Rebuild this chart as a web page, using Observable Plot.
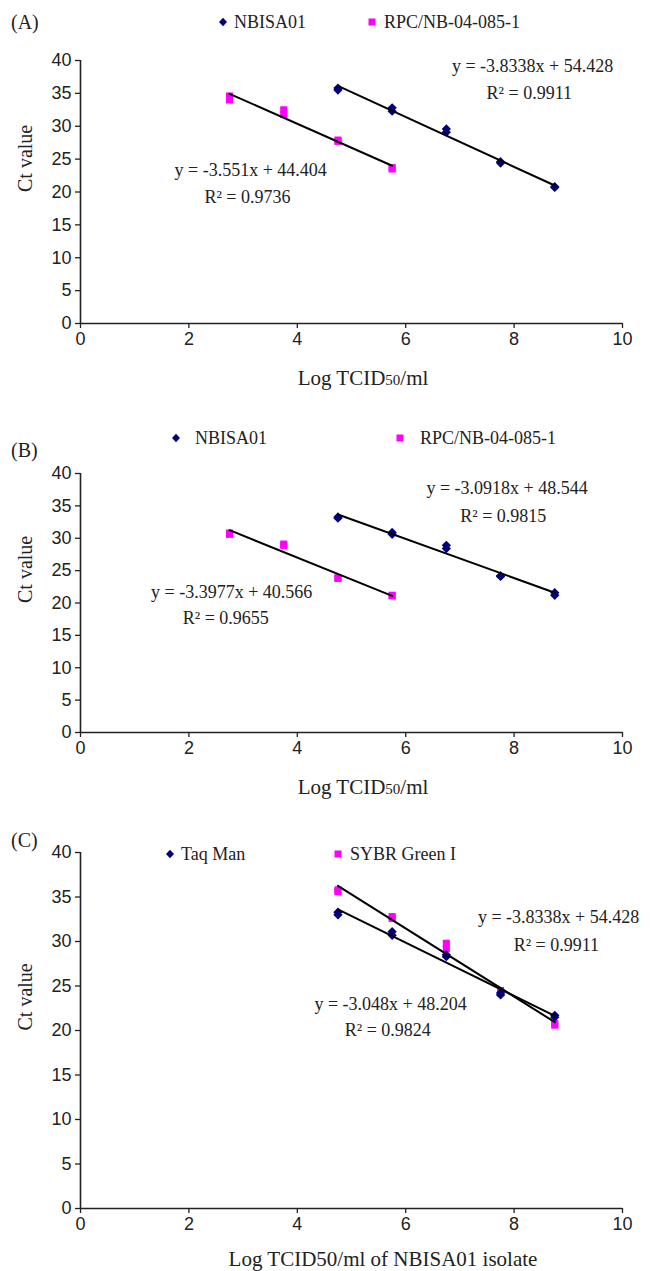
<!DOCTYPE html>
<html><head><meta charset="utf-8">
<script src="https://cdn.jsdelivr.net/npm/d3@7"></script>
<script src="https://cdn.jsdelivr.net/npm/@observablehq/plot@0.6"></script>
<style>
body{margin:0;background:#fff;}
#wrap{position:relative;width:654px;height:1271px;overflow:hidden;background:#fff;}
.abs{position:absolute;white-space:nowrap;line-height:1;}
.serif{font-family:"Liberation Serif","Times New Roman",serif;color:#222;}
.abs svg{display:block;}
</style></head><body><div id="wrap"></div>
<script>
// ---------- data ----------
const panelLabels = ["(A)", "(B)", "(C)"];
const namesAB = ["NBISA01", "RPC/NB-04-085-1"];
const namesC = ["Taq Man", "SYBR Green I"];
const xTicks = [0, 2, 4, 6, 8, 10];
const yTicks = [0, 5, 10, 15, 20, 25, 30, 35, 40];
const yLabel = "Ct value";

// log TCID50/ml of the dilutions (replicates)
const logNBISA = [4.75, 4.75, 5.75, 5.75, 6.75, 6.75, 7.75, 7.75, 8.75, 8.75];
const logRPC = [2.75, 2.75, 3.75, 3.75, 4.75, 4.75, 5.75, 5.75];

// Panel A: Ct values
const ctNBISA_A = [35.5, 35.8, 32.3, 32.8, 29.1, 29.6, 24.4, 24.6, 20.7, 20.8];
const ctRPC_A = [34.0, 34.6, 31.8, 32.5, 27.7, 27.9, 23.5, 23.7];
// Panel B: Ct values
const ctNBISA_B = [33.1, 33.3, 30.6, 30.9, 28.4, 28.9, 24.1, 24.2, 21.2, 21.6];
const ctRPC_B = [30.6, 30.8, 28.9, 29.1, 23.8, 23.9, 21.1, 21.2];
// Panel C: Ct values
const ctTaqMan = [33.0, 33.3, 30.7, 31.1, 28.3, 28.5, 24.0, 24.2, 21.5, 21.7];
const ctSYBR = [35.6, 35.8, 32.6, 32.8, 29.2, 29.8, 24.3, 24.5, 20.6, 20.8];

// trendline equations (text) and their anchor in data units
const eqTextA = ["y = -3.8338x + 54.428", "R² = 0.9911", "y = -3.551x + 44.404", "R² = 0.9736"];
const eqXA = [8.34, 8.28, 3.14, 3.08];
const eqYA = [39.2, 35.0, 23.3, 19.2];
const eqTextB = ["y = -3.0918x + 48.544", "R² = 0.9815", "y = -3.3977x + 40.566", "R² = 0.9655"];
const eqXB = [7.87, 7.80, 2.79, 2.68];
const eqYB = [37.7, 33.4, 21.6, 17.6];
const eqTextC = ["y = -3.8338x + 54.428", "R² = 0.9911", "y = -3.048x + 48.204", "R² = 0.9824"];
const eqXC = [8.82, 8.78, 5.72, 5.67];
const eqYC = [32.7, 29.55, 23.0, 20.0];

// ---------- helpers ----------
const NAVY = "#00007f", MAGENTA = "#ff00ff";
const SERIF = "Liberation Serif, Times New Roman, serif";
const SANS = "Liberation Sans, Arial, sans-serif";
const rows = (xs, ys) => xs.map((x, i) => ({x, y: ys[i]}));
const wrap = document.getElementById("wrap");

function place(el, left, top, center) {
  el.classList.add("abs");
  el.style.left = left + "px";
  el.style.top = top + "px";
  el.style.transform = center ? "translate(-50%,-50%)" : "translate(0,-50%)";
  wrap.appendChild(el);
  return el;
}
function htmlText(html, left, top, size, center) {
  const d = document.createElement("div");
  d.className = "serif";
  d.style.fontSize = size + "px";
  d.innerHTML = html;
  return place(d, left, top, center);
}
function marker(kind, left, top) {
  const ns = "http://www.w3.org/2000/svg";
  const s = document.createElementNS(ns, "svg");
  s.setAttribute("width", 10); s.setAttribute("height", 10);
  const p = document.createElementNS(ns, "path");
  if (kind === "diamond") { p.setAttribute("d", "M5,0.8L9,5L5,9.2L1,5Z"); p.setAttribute("fill", NAVY); }
  else { p.setAttribute("d", "M1.5,1.5H8.5V8.5H1.5Z"); p.setAttribute("fill", MAGENTA); }
  s.appendChild(p);
  const d = document.createElement("div");
  d.appendChild(s);
  d.style.width = "10px"; d.style.height = "10px";
  return place(d, left - 5, top, false);
}

function panel(cfg) {
  const blue = rows(cfg.bx, cfg.by), pink = rows(cfg.px, cfg.py);
  const eqs = cfg.eqT.map((t, i) => ({t, x: cfg.eqX[i], y: cfg.eqY[i]}));
  const chart = Plot.plot({
    width: 654,
    height: cfg.height,
    marginLeft: 80, marginRight: 32, marginTop: 20, marginBottom: 30,
    x: {domain: [0, 10]},
    y: {domain: [0, 40]},
    style: {background: "transparent", overflow: "visible", color: "#222"},
    marks: [
      Plot.ruleX([0], {stroke: "#222", strokeWidth: 1.6}),
      Plot.ruleY([0], {stroke: "#222", strokeWidth: 1.6}),
      Plot.axisX({ticks: xTicks, tickSize: 5, tickPadding: 4, label: null, fontSize: 18, fontFamily: SANS, stroke: "#222", strokeWidth: 1.3}),
      Plot.axisY({ticks: yTicks, tickSize: 5, tickPadding: 4, label: null, fontSize: 18, fontFamily: SANS, stroke: "#222", strokeWidth: 1.3}),
      Plot.text([yLabel], {frameAnchor: "left", rotate: -90, dx: -55, fontSize: 20, fontFamily: SERIF, fill: "#222"}),
      Plot.dot(pink, {x: "x", y: "y", symbol: "square", r: 4, fill: MAGENTA, stroke: null}),
      Plot.dot(blue, {x: "x", y: "y", symbol: "diamond2", r: 4.2, fill: NAVY, stroke: null}),
      Plot.linearRegressionY(blue, {x: "x", y: "y", stroke: "#000", strokeWidth: 2, ci: 0}),
      Plot.linearRegressionY(pink, {x: "x", y: "y", stroke: "#000", strokeWidth: 2, ci: 0}),
      Plot.text(eqs, {x: "x", y: "y", text: "t", fontSize: 18, fontFamily: SERIF, fill: "#222"})
    ]
  });
  const holder = document.createElement("div");
  holder.className = "abs";
  holder.style.left = "0px"; holder.style.top = cfg.top + "px";
  holder.appendChild(chart);
  wrap.appendChild(holder);

  htmlText(cfg.label, 11, cfg.labelY, 20, false);
  marker("diamond", cfg.leg[0], cfg.legY);
  htmlText(cfg.names[0], cfg.leg[1], cfg.legY, 18, false);
  marker("square", cfg.leg[2], cfg.legY);
  htmlText(cfg.names[1], cfg.leg[3], cfg.legY, 18, false);
  htmlText(cfg.title, cfg.titleX, cfg.titleY, 21, true);
}

panel({top: 40, height: 313, label: panelLabels[0], labelY: 22, legY: 22, leg: [223, 234, 372, 384], names: namesAB,
  bx: logNBISA, by: ctNBISA_A, px: logRPC, py: ctRPC_A, eqT: eqTextA, eqX: eqXA, eqY: eqYA,
  title: 'Log TCID<span style="font-size:15px">50</span>/ml', titleX: 363, titleY: 378});
panel({top: 453, height: 309, label: panelLabels[1], labelY: 450, legY: 438, leg: [176, 195, 400, 420], names: namesAB,
  bx: logNBISA, by: ctNBISA_B, px: logRPC, py: ctRPC_B, eqT: eqTextB, eqX: eqXB, eqY: eqYB,
  title: 'Log TCID<span style="font-size:15px">50</span>/ml', titleX: 363, titleY: 787});
panel({top: 832, height: 406, label: panelLabels[2], labelY: 840, legY: 854, leg: [170, 181, 338, 350], names: namesC,
  bx: logNBISA, by: ctTaqMan, px: logNBISA, py: ctSYBR, eqT: eqTextC, eqX: eqXC, eqY: eqYC,
  title: 'Log TCID50/ml of NBISA01 isolate', titleX: 383, titleY: 1259});
</script>
</body></html>
